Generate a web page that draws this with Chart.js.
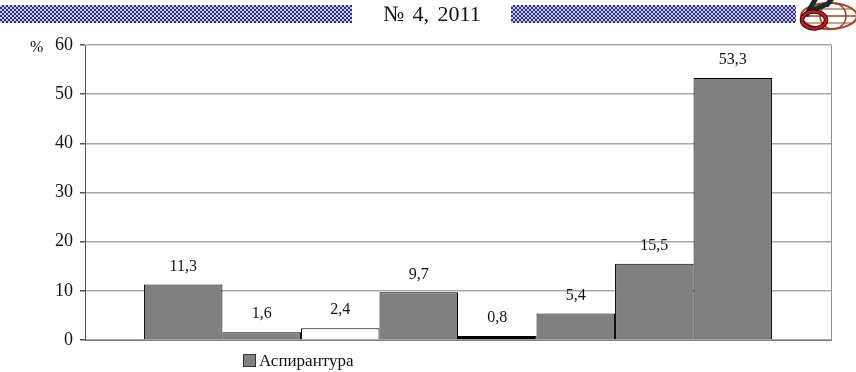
<!DOCTYPE html>
<html><head><meta charset="utf-8">
<script src="https://cdn.jsdelivr.net/npm/chart.js@4/dist/chart.umd.min.js"></script>
<style>
html,body{margin:0;padding:0;background:#fff;}
#wrap{position:relative;width:856px;height:372px;overflow:hidden;}
#c{position:absolute;left:0;top:0;}
.strip{position:absolute;top:5px;height:18px;
  background-image:repeating-conic-gradient(#2e2e80 0 25%, #c8c8e8 0 50%);
  background-size:4px 4px;}
#hdr{position:absolute;top:1px;left:383px;font-family:"Liberation Serif",serif;font-size:22px;color:#111;
  word-spacing:3px;white-space:nowrap;}
#pct{position:absolute;left:30px;top:38px;font-family:"Liberation Serif",serif;font-size:16px;color:#111;}
#leg{position:absolute;left:243px;top:351px;font-family:"Liberation Serif",serif;font-size:17px;color:#111;white-space:nowrap;}
#leg span.box{display:inline-block;width:11px;height:11px;background:#808080;border:1px solid #333;margin-right:3px;vertical-align:-1px;}
#logo{position:absolute;left:796px;top:0;}
</style></head>
<body><div id="wrap">
<canvas id="c" width="856" height="372"></canvas>
<div class="strip" style="left:0;width:352px"></div>
<div id="hdr">№ 4, 2011</div>
<div class="strip" style="left:511px;width:285px"></div>
<svg id="logo" width="62" height="36" viewBox="0 0 62 36">
  <ellipse cx="33" cy="16" rx="28" ry="13" fill="none" stroke="#a2421c" stroke-width="2"/>
  <ellipse cx="37" cy="16" rx="13" ry="13" fill="none" stroke="#a2421c" stroke-width="1.5"/>
  <line x1="5" y1="16" x2="61" y2="16" stroke="#a2421c" stroke-width="1.5"/>
  <line x1="9" y1="9" x2="57" y2="9" stroke="#a2421c" stroke-width="1.2"/>
  <line x1="9" y1="23" x2="57" y2="23" stroke="#a2421c" stroke-width="1.2"/>
  <path d="M10 16 L20 -2 M16 10 L32 4 M30 6 L38 -4" stroke="#1e2a2a" stroke-width="5" stroke-linecap="butt" fill="none"/>
  <ellipse cx="18" cy="20" rx="12" ry="8.5" fill="none" stroke="#111" stroke-width="4.5"/>
  <ellipse cx="18" cy="20" rx="12" ry="8.5" fill="none" stroke="#e01010" stroke-width="2.5"/>
</svg>
<div id="pct">%</div>
<div id="leg"><span class="box"></span>Аспирантура</div>
</div>
<script>
const categories = [''];
const seriesNames = ['Аспирантура', 'Серия 2', 'Серия 3', 'Серия 4', 'Серия 5', 'Серия 6', 'Серия 7', 'Серия 8'];
const values = [11.3, 1.6, 2.4, 9.7, 0.8, 5.4, 15.5, 53.3];
const yTicks = [0, 10, 20, 30, 40, 50, 60];
const fills = ['#808080', '#808080', '#ffffff', '#808080', '#000000', '#808080', '#808080', '#808080'];

const datasets = values.map((v, i) => ({
  label: seriesNames[i],
  data: [v],
  backgroundColor: fills[i],
  borderColor: '#000',
  borderWidth: 1,
  borderSkipped: 'bottom'
}));

const labelPlugin = {
  id: 'vlabels',
  afterDatasetsDraw(chart) {
    const ctx = chart.ctx;
    ctx.save();
    ctx.font = '16px "Liberation Serif", serif';
    ctx.fillStyle = '#111';
    ctx.textAlign = 'center';
    ctx.textBaseline = 'bottom';
    chart.data.datasets.forEach((ds, i) => {
      const el = chart.getDatasetMeta(i).data[0];
      ctx.fillText(String(ds.data[0]).replace('.', ','), el.x, el.y - 10);
    });
    ctx.restore();
  }
};
const borderPlugin = {
  id: 'rborder',
  afterDraw(chart) {
    const a = chart.chartArea, ctx = chart.ctx;
    ctx.save();
    ctx.strokeStyle = '#909090';
    ctx.lineWidth = 1;
    ctx.beginPath();
    ctx.moveTo(a.right + 0.5, a.top);
    ctx.lineTo(a.right + 0.5, a.bottom);
    ctx.stroke();
    ctx.restore();
  }
};

new Chart(document.getElementById('c'), {
  type: 'bar',
  data: { labels: categories, datasets },
  options: {
    responsive: false,
    animation: false,
    devicePixelRatio: 1,
    layout: { padding: { left: 0, right: 25, top: 45, bottom: 32 } },
    datasets: { bar: { categoryPercentage: 0.842, barPercentage: 1.0 } },
    plugins: { legend: { display: false }, tooltip: { enabled: false } },
    scales: {
      x: {
        ticks: { display: false },
        grid: { display: false, drawTicks: false },
        border: { color: '#808080', width: 1 },
        afterFit(s) { s.height = 0; }
      },
      y: {
        min: 0, max: 60,
        afterBuildTicks(s) { s.ticks = yTicks.map(v => ({ value: v })); },
        ticks: { color: '#111', font: { family: '"Liberation Serif", serif', size: 18 }, padding: 7 },
        grid: { color: '#a8a8a8', lineWidth: 1.5, tickLength: 5, tickColor: '#555' },
        border: { color: '#555', width: 1 },
        afterFit(s) { s.width = 85; }
      }
    }
  },
  plugins: [labelPlugin, borderPlugin]
});
</script>
</body></html>
